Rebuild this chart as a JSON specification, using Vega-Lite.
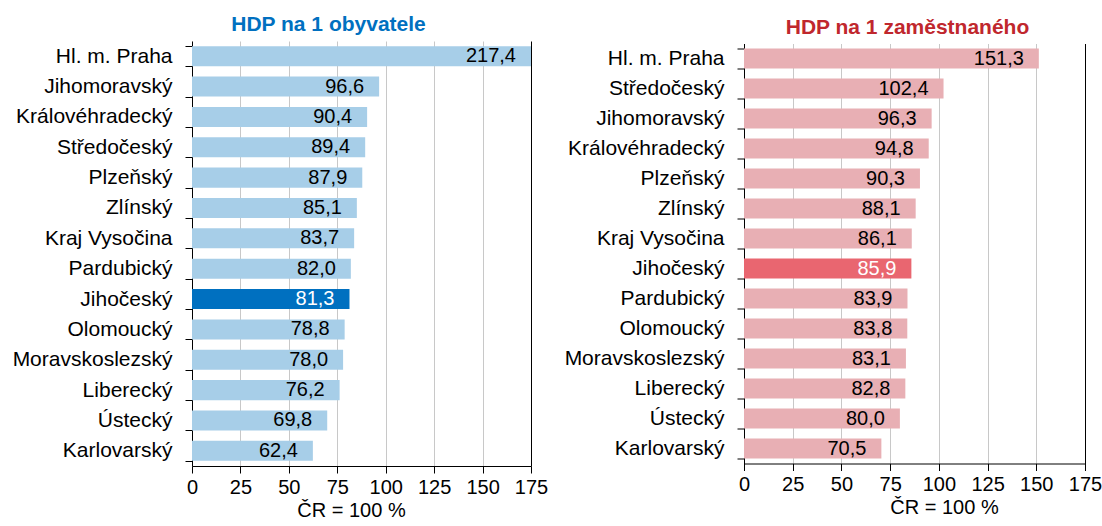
{
  "$schema": "https://vega.github.io/schema/vega-lite/v6.json",
  "padding": {"left": 12, "top": 14, "right": 0, "bottom": 0},
  "spacing": 16,
  "center": true,
  "config": {
    "view": {"stroke": null},
    "font": "Liberation Sans",
    "locale": {"number": {"decimal": ",", "thousands": " ", "grouping": [3], "currency": ["", " Kč"]}}
  },
  "datasets": {
    "obyv": [
      {"kraj": "Hl. m. Praha", "v": 217.4},
      {"kraj": "Jihomoravský", "v": 96.6},
      {"kraj": "Královéhradecký", "v": 90.4},
      {"kraj": "Středočeský", "v": 89.4},
      {"kraj": "Plzeňský", "v": 87.9},
      {"kraj": "Zlínský", "v": 85.1},
      {"kraj": "Kraj Vysočina", "v": 83.7},
      {"kraj": "Pardubický", "v": 82.0},
      {"kraj": "Jihočeský", "v": 81.3},
      {"kraj": "Olomoucký", "v": 78.8},
      {"kraj": "Moravskoslezský", "v": 78.0},
      {"kraj": "Liberecký", "v": 76.2},
      {"kraj": "Ústecký", "v": 69.8},
      {"kraj": "Karlovarský", "v": 62.4}
    ],
    "zam": [
      {"kraj": "Hl. m. Praha", "v": 151.3},
      {"kraj": "Středočeský", "v": 102.4},
      {"kraj": "Jihomoravský", "v": 96.3},
      {"kraj": "Královéhradecký", "v": 94.8},
      {"kraj": "Plzeňský", "v": 90.3},
      {"kraj": "Zlínský", "v": 88.1},
      {"kraj": "Kraj Vysočina", "v": 86.1},
      {"kraj": "Jihočeský", "v": 85.9},
      {"kraj": "Pardubický", "v": 83.9},
      {"kraj": "Olomoucký", "v": 83.8},
      {"kraj": "Moravskoslezský", "v": 83.1},
      {"kraj": "Liberecký", "v": 82.8},
      {"kraj": "Ústecký", "v": 80.0},
      {"kraj": "Karlovarský", "v": 70.5}
    ]
  },
  "hconcat": [
    {
      "width": 339,
      "height": 425,
      "title": {"text": "HDP na 1 obyvatele", "color": "#0070C0", "fontSize": 21, "fontWeight": "bold", "offset": -5, "dx": -33},
      "data": {"name": "obyv"},
      "encoding": {
        "y": {"field": "kraj", "type": "nominal", "sort": {"field": "v", "order": "descending"},
              "scale": {"paddingInner": 0.34, "paddingOuter": 0.17},
              "axis": {"title": null, "grid": false, "domainColor": "#000000", "tickColor": "#000000", "tickSize": 7, "tickBand": "extent",
                       "labelFontSize": 21, "labelColor": "#000000", "labelPadding": 13}}
      },
      "layer": [
        {
          "mark": {"type": "bar"},
          "encoding": {
            "x": {"field": "v", "type": "quantitative", "scale": {"domain": [0, 175], "clamp": true, "nice": false},
                  "axis": {"values": [0, 25, 50, 75, 100, 125, 150, 175], "grid": true,
                           "gridColor": {"condition": {"test": "datum.value === 175", "value": "#000000"}, "value": "#C8C8C8"},
                           "domainColor": "#000000", "tickColor": "#000000", "tickSize": 7,
                           "labelFontSize": 20, "labelColor": "#000000", "labelPadding": 4, "labelFlush": false, "labelOverlap": false,
                           "title": "ČR = 100 %", "titleFontSize": 20, "titleFontWeight": "normal", "titleColor": "#000000", "titlePadding": 3, "titleX": 159}},
            "color": {"condition": {"test": "datum.kraj === 'Jihočeský'", "value": "#0070C0"}, "value": "#A7CEE8"}
          }
        },
        {
          "mark": {"type": "text", "align": "right", "baseline": "middle", "dx": -15, "fontSize": 20},
          "encoding": {
            "x": {"field": "v", "type": "quantitative"},
            "text": {"field": "v", "type": "quantitative", "format": ".1f"},
            "color": {"condition": {"test": "datum.kraj === 'Jihočeský'", "value": "#FFFFFF"}, "value": "#000000"}
          }
        }
      ]
    },
    {
      "width": 341,
      "height": 420,
      "title": {"text": "HDP na 1 zaměstnaného", "color": "#C0272D", "fontSize": 21, "fontWeight": "bold", "offset": -5, "dx": -7},
      "data": {"name": "zam"},
      "encoding": {
        "y": {"field": "kraj", "type": "nominal", "sort": {"field": "v", "order": "descending"},
              "scale": {"paddingInner": 0.34, "paddingOuter": 0.17},
              "axis": {"title": null, "grid": false, "domainColor": "#000000", "tickColor": "#000000", "tickSize": 7, "tickBand": "extent",
                       "labelFontSize": 21, "labelColor": "#000000", "labelPadding": 13}}
      },
      "layer": [
        {
          "mark": {"type": "bar"},
          "encoding": {
            "x": {"field": "v", "type": "quantitative", "scale": {"domain": [0, 175], "clamp": true, "nice": false},
                  "axis": {"values": [0, 25, 50, 75, 100, 125, 150, 175], "grid": true,
                           "gridColor": {"condition": {"test": "datum.value === 175", "value": "#000000"}, "value": "#C8C8C8"},
                           "domainColor": "#000000", "tickColor": "#000000", "tickSize": 7,
                           "labelFontSize": 20, "labelColor": "#000000", "labelPadding": 4, "labelFlush": false, "labelOverlap": false,
                           "title": "ČR = 100 %", "titleFontSize": 20, "titleFontWeight": "normal", "titleColor": "#000000", "titlePadding": 3, "titleX": 200}},
            "color": {"condition": {"test": "datum.kraj === 'Jihočeský'", "value": "#E96670"}, "value": "#E8AFB4"}
          }
        },
        {
          "mark": {"type": "text", "align": "right", "baseline": "middle", "dx": -15, "fontSize": 20},
          "encoding": {
            "x": {"field": "v", "type": "quantitative"},
            "text": {"field": "v", "type": "quantitative", "format": ".1f"},
            "color": {"condition": {"test": "datum.kraj === 'Jihočeský'", "value": "#FFFFFF"}, "value": "#000000"}
          }
        }
      ]
    }
  ]
}
